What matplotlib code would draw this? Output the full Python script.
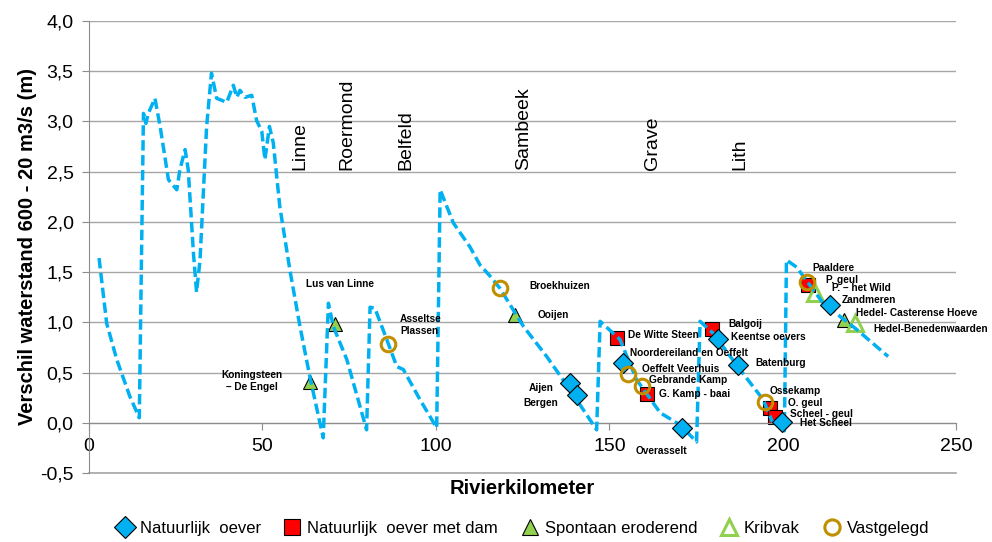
import matplotlib
matplotlib.use('Agg')
import matplotlib.pyplot as plt
from matplotlib.lines import Line2D
from matplotlib.ticker import FuncFormatter, MultipleLocator

plt.rcParams['font.family'] = ['Liberation Sans', 'DejaVu Sans']

# waterstandsverschil langs de rivier (gestippelde lijn)
rkm = [2.9, 5.1, 8.0, 11.8, 14.5, 15.7, 16.4, 17.1, 19.0, 20.5, 22.9, 25.3, 26.2, 27.7, 28.6,
       30.1, 31.0, 32.0, 33.9, 35.3, 36.8, 39.7, 41.6, 42.6, 43.5, 45.0, 46.9, 48.3, 49.8,
       50.7, 52.0, 53.1, 55.0, 57.9, 60.8, 63.7, 67.5, 69.0, 70.4, 74.3, 80.0, 81.0, 82.4,
       85.8, 88.7, 90.6, 95.4, 100.2, 101.2, 105.0, 109.8, 112.7, 115.6, 118.4, 125.2, 131.9,
       138.6, 146.3, 147.3, 153.0, 157.8, 164.6, 170.3, 175.1, 176.1, 179.9, 187.6, 194.3,
       196.8, 200.4, 201.0, 203.9, 211.6, 221.2, 230.3]
dh = [1.64, 0.99, 0.63, 0.26, 0.05, 3.08, 2.98, 3.08, 3.23, 2.95, 2.42, 2.32, 2.52, 2.72, 2.52,
      1.69, 1.30, 1.62, 2.95, 3.48, 3.23, 3.19, 3.36, 3.24, 3.31, 3.24, 3.26, 3.01, 2.90,
      2.62, 2.95, 2.79, 2.15, 1.52, 0.96, 0.45, -0.15, 1.19, 0.96, 0.63, -0.07, 1.15, 1.14,
      0.83, 0.56, 0.53, 0.23, -0.05, 2.32, 1.99, 1.75, 1.57, 1.46, 1.34, 0.96, 0.66,
      0.33, -0.07, 1.01, 0.83, 0.43, 0.10, -0.02, -0.19, 1.01, 0.89, 0.53, 0.23,
      0.02, -0.08, 1.62, 1.55, 1.19, 0.93, 0.66]

# plaatsen
cities = ['Linne', 'Roermond', 'Belfeld', 'Sambeek', 'Grave', 'Lith']
city_km = [60.8, 74.4, 91.4, 125.4, 162.3, 187.6]

# Natuurlijk oever
oever_km = [138.6, 140.5, 154.0, 170.8, 181.4, 187.1, 199.6, 213.5]
oever_dh = [0.40, 0.28, 0.60, -0.05, 0.83, 0.58, 0.01, 1.17]
oever_names = ['Aijen', 'Bergen', 'Noordereiland en Oeffelt', 'Overasselt',
               'Keentse oevers', 'Batenburg', 'Het Scheel', 'Zandmeren']

# Natuurlijk oever met dam
dam_km = [152.1, 160.7, 179.4, 196.3, 197.7, 207.3]
dam_dh = [0.84, 0.29, 0.93, 0.15, 0.06, 1.37]
dam_names = ['De Witte Steen', 'G. Kamp - baai', 'Balgoij', 'O. geul', 'Scheel - geul', 'P. geul']

# Spontaan eroderend
ero_km = [63.7, 70.9, 122.8, 217.6]
ero_dh = [0.41, 0.98, 1.07, 1.02]
ero_names = ['Koningsteen\n\u2013 De Engel', 'Lus van Linne', 'Ooijen', 'Hedel- Casterense Hoeve']

# Kribvak
krib_km = [209.2, 220.7]
krib_dh = [1.29, 0.99]
krib_names = ['P. \u2013 het Wild', 'Hedel-Benedenwaarden']

# Vastgelegd
vast_km = [86.3, 118.4, 155.4, 159.3, 194.8, 206.8]
vast_dh = [0.78, 1.34, 0.49, 0.37, 0.21, 1.40]
vast_names = ['Asseltse\nPlassen', 'Broekhuizen', 'Oeffelt Veerhuis', 'Gebrande Kamp',
              'Ossekamp', 'Paaldere']

# label offsets (pixels) and alignment
oever_off = [(-28.5, -5, 'center'), (-36, -8, 'center'), (6.7, 10, 'left'), (-20.7, -22.7, 'center'),
             (12.4, 2, 'left'), (16.7, 2, 'left'), (18.3, -1, 'left'), (11.7, 5, 'left')]
dam_off = [(11, 3, 'left'), (12.6, 0, 'left'), (16.6, 5, 'left'), (18.3, 5, 'left'),
           (15, 3, 'left'), (17.7, 5, 'left')]
ero_off = [(-58.5, 0.5, 'center'), (-29, 40, 'left'), (22.7, 0, 'left'), (11.7, 7, 'left')]
krib_off = [(16.7, 5, 'left'), (18.3, -6, 'left')]
vast_off = [(11.7, 19, 'left'), (30, 2, 'left'), (14, 5, 'left'), (7.6, 6, 'left'),
            (5, 11, 'left'), (6, 14, 'left')]

blue = '#00B0F0'
red = '#FF0000'
green = '#92D050'
gold = '#BF8F00'
grey = '#8C8C8C'

fig = plt.figure(figsize=(9.92, 5.42), dpi=100)
ax = fig.add_axes([0.0897, 0.1273, 0.8745, 0.834])

ax.plot(rkm, dh, color=blue, lw=2.5, dashes=(3.0, 1.3), zorder=3)

ax.plot(dam_km, dam_dh, 's', ms=10.5, mfc=red, mec='black', mew=0.8, zorder=2)
ax.plot(ero_km, ero_dh, '^', ms=10.5, mfc=green, mec='black', mew=0.8, zorder=2)
ax.plot(krib_km, krib_dh, '^', ms=11, mfc='none', mec=green, mew=2.2, zorder=2)
ax.plot(oever_km, oever_dh, 'D', ms=10.5, mfc=blue, mec='black', mew=0.8, zorder=4)
ax.plot(vast_km, vast_dh, 'o', ms=10.5, mfc='none', mec=gold, mew=2.2, zorder=4)

px = 72.0 / fig.dpi
for xs, ys, names, offs in [(oever_km, oever_dh, oever_names, oever_off),
                            (dam_km, dam_dh, dam_names, dam_off),
                            (ero_km, ero_dh, ero_names, ero_off),
                            (krib_km, krib_dh, krib_names, krib_off),
                            (vast_km, vast_dh, vast_names, vast_off)]:
    for x, y, name, (dx, dy, ha) in zip(xs, ys, names, offs):
        ax.annotate(name, (x, y), xytext=(dx * px, dy * px), textcoords='offset points',
                    ha=ha, va='center', fontsize=7.3, fontweight='bold',
                    multialignment=ha, linespacing=1.25, zorder=5)

for km, name in zip(city_km, cities):
    ax.text(km, 2.517, name, rotation=90, ha='center', va='bottom', fontsize=14)

ax.set_xlim(0, 250)
ax.set_ylim(-0.5, 4.0)
ax.xaxis.set_major_locator(MultipleLocator(50))
ax.yaxis.set_major_locator(MultipleLocator(0.5))
ax.yaxis.set_major_formatter(FuncFormatter(lambda v, p: f'{v:.1f}'.replace('.', ',')))

ax.spines['top'].set_visible(False)
ax.spines['right'].set_visible(False)
ax.spines['bottom'].set_position(('data', 0))
ax.spines['bottom'].set_color(grey)
ax.spines['left'].set_color(grey)
ax.tick_params(axis='both', direction='out', length=5, color=grey, labelsize=14, pad=6)
ax.yaxis.grid(True, color='#A6A6A6', lw=1.0)
ax.axhline(-0.5, color='#A6A6A6', lw=1.2, clip_on=False, zorder=0.5)
ax.set_axisbelow(True)

ax.set_xlabel('Rivierkilometer', fontsize=14.5, fontweight='bold')
ax.xaxis.set_label_coords(0.5, -0.013)
ax.set_ylabel('Verschil waterstand 600 - 20 m3/s (m)', fontsize=14.5, fontweight='bold')
ax.yaxis.set_label_coords(-0.0595, 0.5)

handles = [
    Line2D([], [], ls='none', marker='D', ms=11, mfc=blue, mec='black', mew=0.8),
    Line2D([], [], ls='none', marker='s', ms=11, mfc=red, mec='black', mew=0.8),
    Line2D([], [], ls='none', marker='^', ms=11, mfc=green, mec='black', mew=0.8),
    Line2D([], [], ls='none', marker='^', ms=11.5, mfc='none', mec=green, mew=2.2),
    Line2D([], [], ls='none', marker='o', ms=11, mfc='none', mec=gold, mew=2.2),
]
labels = ['Natuurlijk  oever', 'Natuurlijk  oever met dam', 'Spontaan eroderend',
          'Kribvak', 'Vastgelegd']
ax.legend(handles, labels, loc='center', bbox_to_anchor=(0.5, -0.122), ncol=5,
          frameon=False, fontsize=12, handlelength=1.0, handletextpad=0.4,
          columnspacing=1.4, borderaxespad=0)

fig.savefig('out.png', dpi=100)
